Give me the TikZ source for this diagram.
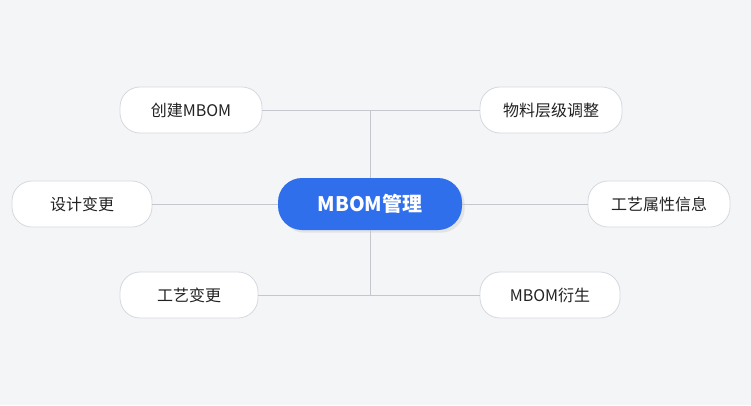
\documentclass[tikz,border=0pt]{standalone}
\usepackage{fontspec}
\setmainfont{Noto Sans CJK SC}
\usetikzlibrary{positioning,shadows}
\definecolor{bgcol}{HTML}{F4F5F7}
\definecolor{hubblue}{HTML}{2F6FEB}
\definecolor{leafline}{HTML}{D5D9DF}
\definecolor{linkgray}{HTML}{C4C8CE}
\definecolor{txtcol}{HTML}{222222}
\tikzset{
    hub/.style={rounded corners=24pt, fill=hubblue, text=white, minimum width=184pt,
        minimum height=52pt, font=\fontsize{20}{24}\selectfont\bfseries, drop shadow={opacity=0.15}},
    leaf/.style={rounded corners=20pt, fill=white, draw=leafline, line width=0.8pt, text=txtcol,
        minimum width=140pt, minimum height=46pt, font=\fontsize{16}{19}\selectfont},
    link/.style={draw=linkgray, line width=1pt}
}
\begin{document}
\begin{tikzpicture}[x=1pt, y=-1pt]
    \fill[bgcol] (0,0) rectangle (751,405);
    \useasboundingbox (0,0) rectangle (751,405);

    \node[hub] (mbom) at (370,204) {MBOM管理};

    \node[leaf, minimum width=142pt] (create) at (191,110) {创建MBOM};
    \node[leaf, minimum width=142pt] (level) at (551,110) {物料层级调整};
    \node[leaf] (design) at (82,204) {设计变更};
    \node[leaf, minimum width=142pt] (attr) at (659,204) {工艺属性信息};
    \node[leaf, minimum width=138pt] (proc) at (189,295) {工艺变更};
    \node[leaf] (derive) at (550,295) {MBOM衍生};

    \coordinate (top) at (370,110);
    \coordinate (bottom) at (370,295);

    % connectors
    \draw[link] (create) -- (level);
    \draw[link] (proc) -- (derive);
    \draw[link] (top) -- (mbom.north);
    \draw[link] (mbom.south) -- (bottom);
    \draw[link] (design) -- (mbom);
    \draw[link] (mbom) -- (attr);
\end{tikzpicture}
\end{document}
